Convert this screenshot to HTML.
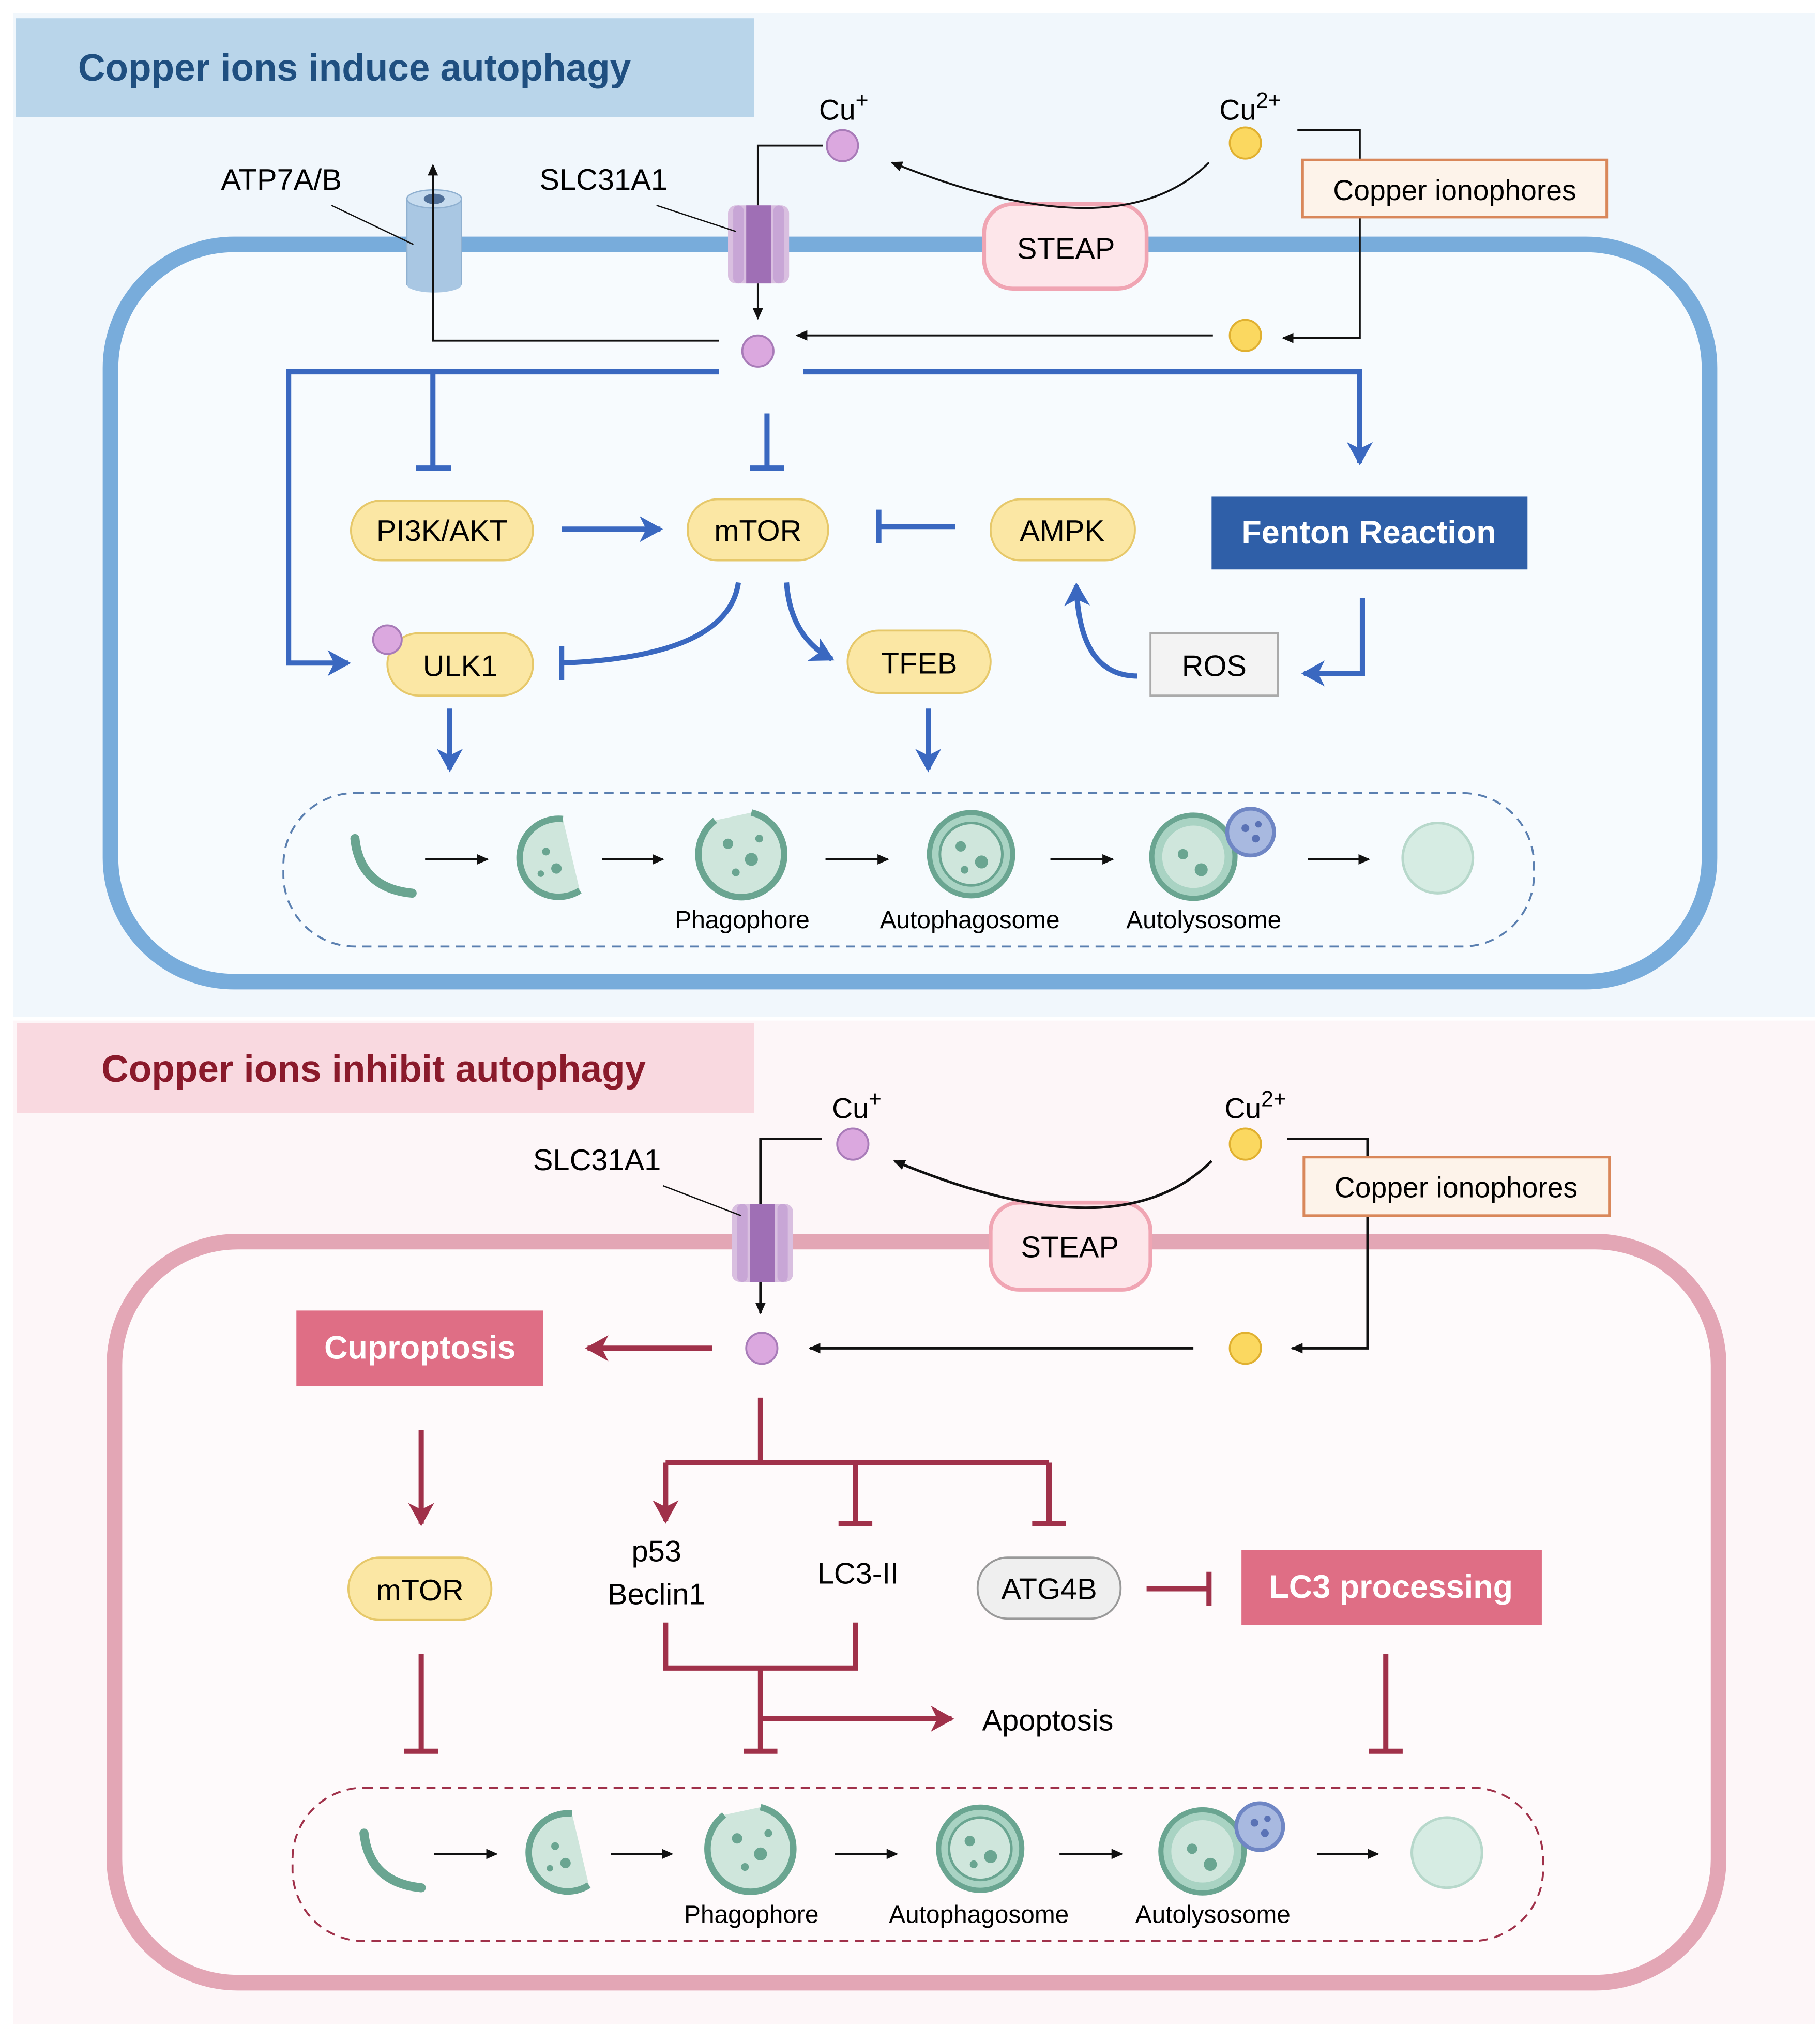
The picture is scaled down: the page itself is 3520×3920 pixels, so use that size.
<!DOCTYPE html>
<html><head><meta charset="utf-8"><style>
html,body{margin:0;padding:0;background:#fff}
svg{display:block}
text{font-family:"Liberation Sans",sans-serif}
</style></head><body>
<svg width="3520" height="3920" viewBox="0 0 1400 1559.1" xmlns="http://www.w3.org/2000/svg">
<defs>
<marker id="ak" markerWidth="10" markerHeight="10" refX="8" refY="5" orient="auto" markerUnits="userSpaceOnUse"><path d="M0,1 L9,5 L0,9 z" fill="#111"/></marker>
<marker id="ab" markerWidth="24" markerHeight="24" refX="18" refY="12" orient="auto" markerUnits="userSpaceOnUse"><path d="M2,2 L20,12 L2,22 L7,12 z" fill="#3a68c0"/></marker>
<marker id="ar" markerWidth="24" markerHeight="24" refX="18" refY="12" orient="auto" markerUnits="userSpaceOnUse"><path d="M2,2 L20,12 L2,22 L7,12 z" fill="#a0314a"/></marker>
<g id="crescent"><path d="M-22,-20 Q-18,18 22,22" fill="none" stroke="#6aa591" stroke-width="7" stroke-linecap="round"/></g>
<g id="half"><path d="M5,-30 A30,30 0 1 0 18,25" fill="#cfe6dc" stroke="#6aa591" stroke-width="5"/><circle cx="-8" cy="-5" r="3" fill="#6aa591"/><circle cx="0" cy="8" r="4" fill="#6aa591"/><circle cx="-12" cy="12" r="2.5" fill="#6aa591"/></g>
<g id="phago"><path d="M-20,-26 A33,33 0 1 0 8,-32" fill="#cfe6dc" stroke="#6aa591" stroke-width="5"/><circle cx="-10" cy="-8" r="4" fill="#6aa591"/><circle cx="8" cy="4" r="5" fill="#6aa591"/><circle cx="-4" cy="14" r="3" fill="#6aa591"/><circle cx="14" cy="-12" r="3" fill="#6aa591"/></g>
<g id="auto"><circle r="32" fill="#a9d3c3" stroke="#6aa591" stroke-width="4"/><circle r="24" fill="#cfe6dc" stroke="#6aa591" stroke-width="2"/><circle cx="-8" cy="-6" r="4" fill="#6aa591"/><circle cx="8" cy="6" r="5" fill="#6aa591"/><circle cx="-5" cy="12" r="3" fill="#6aa591"/></g>
<g id="lyso"><circle r="32" fill="#a9d3c3" stroke="#6aa591" stroke-width="4"/><circle r="24" fill="#cfe6dc"/><circle cx="-8" cy="-2" r="4" fill="#6aa591"/><circle cx="6" cy="10" r="5" fill="#6aa591"/><circle cx="44" cy="-19" r="18" fill="#a8b9e0" stroke="#6f86c4" stroke-width="3"/><circle cx="40" cy="-22" r="3" fill="#5a72b5"/><circle cx="48" cy="-14" r="3" fill="#5a72b5"/><circle cx="50" cy="-25" r="2.5" fill="#5a72b5"/></g>
<g id="final"><circle r="27" fill="#d6ece3" stroke="#b7d8cb" stroke-width="2"/></g>
<g id="chan"><rect x="0" y="0" width="47" height="60" rx="6" fill="#d9bfe0"/><rect x="14" y="0" width="19" height="60" fill="#9f6fb5"/><rect x="4" y="0" width="8" height="60" rx="4" fill="#c8a6d6"/><rect x="35" y="0" width="8" height="60" rx="4" fill="#c8a6d6"/></g>
</defs>

<!-- TOP PANEL -->
<rect x="10" y="10" width="1386" height="772" fill="#f1f7fc"/>
<rect x="12" y="14" width="568" height="76" fill="#b9d5ea"/>
<text x="60" y="62" font-size="29" font-weight="bold" fill="#1f4f80">Copper ions induce autophagy</text>
<rect x="85" y="188" width="1230" height="567" rx="95" fill="#f7fbfe" stroke="#78acdb" stroke-width="12"/>

<text x="630" y="92" font-size="22">Cu<tspan dy="-9" font-size="17">+</tspan></text>
<circle cx="648" cy="112" r="12" fill="#dba8df" stroke="#a87bb8" stroke-width="1.5"/>
<text x="938" y="92" font-size="22">Cu<tspan dy="-9" font-size="17">2+</tspan></text>
<circle cx="958" cy="110" r="12" fill="#fbd860" stroke="#e0b030" stroke-width="1.5"/>
<path d="M998,100 H1046 V260 H987" fill="none" stroke="#111" stroke-width="1.5" marker-end="url(#ak)"/>
<rect x="1002" y="123" width="234" height="44" fill="#fdf3ea" stroke="#d9875a" stroke-width="2"/>
<text x="1119" y="154" font-size="22" text-anchor="middle">Copper ionophores</text>
<circle cx="958" cy="258" r="12" fill="#fbd860" stroke="#e0b030" stroke-width="1.5"/>
<line x1="933" y1="258" x2="613" y2="258" stroke="#111" stroke-width="1.5" marker-end="url(#ak)"/>
<circle cx="583" cy="270" r="12" fill="#dba8df" stroke="#a87bb8" stroke-width="1.5"/>
<path d="M633,112 H583 V245" fill="none" stroke="#111" stroke-width="1.5" marker-end="url(#ak)"/>
<rect x="757" y="157" width="125" height="65" rx="22" fill="#fde6ea" stroke="#f0a5b3" stroke-width="3"/>
<text x="820" y="199" font-size="23" text-anchor="middle">STEAP</text>
<path d="M930,125 Q860,195 686,125" fill="none" stroke="#111" stroke-width="1.5" marker-end="url(#ak)"/>
<use href="#chan" x="560" y="158"/>
<text x="415" y="146" font-size="23">SLC31A1</text>
<line x1="505" y1="158" x2="566" y2="178" stroke="#111" stroke-width="1"/>
<rect x="313" y="153" width="42" height="66" fill="#a9c7e3" stroke="#8fb0d0"/>
<ellipse cx="334" cy="219" rx="21" ry="6" fill="#a9c7e3"/>
<ellipse cx="334" cy="153" rx="21" ry="7" fill="#c7dcef" stroke="#8fb0d0"/>
<ellipse cx="334" cy="153" rx="8" ry="4" fill="#4f6f98"/>
<text x="170" y="146" font-size="23">ATP7A/B</text>
<line x1="255" y1="158" x2="318" y2="188" stroke="#111" stroke-width="1"/>
<path d="M553,262 H333 V127" fill="none" stroke="#111" stroke-width="1.5" marker-end="url(#ak)"/>

<g stroke="#3a68c0" stroke-width="4" fill="none">
<path d="M553,286 H222 V510 H268" marker-end="url(#ab)"/>
<path d="M333,286 V360 M320,360 H347"/>
<path d="M590,318 V360 M577,360 H603"/>
<path d="M618,286 H1046 V356" marker-end="url(#ab)"/>
<path d="M432,407 H508" marker-end="url(#ab)"/>
<path d="M735,405 H676 M676,392 V418"/>
<path d="M568,448 Q560,505 432,510 M432,497 V523"/>
<path d="M605,448 Q608,490 640,507" marker-end="url(#ab)"/>
<path d="M1048,460 V518 H1003" marker-end="url(#ab)"/>
<path d="M875,520 Q830,520 828,450" marker-end="url(#ab)"/>
<path d="M346,545 V592" marker-end="url(#ab)"/>
<path d="M714,545 V592" marker-end="url(#ab)"/>
</g>
<g font-size="23" text-anchor="middle">
<rect x="270" y="385" width="140" height="46" rx="23" fill="#fbe7a4" stroke="#e6c86a" stroke-width="1.5"/><text x="340" y="416">PI3K/AKT</text>
<rect x="529" y="384" width="108" height="47" rx="23" fill="#fbe7a4" stroke="#e6c86a" stroke-width="1.5"/><text x="583" y="416">mTOR</text>
<rect x="762" y="384" width="111" height="47" rx="23" fill="#fbe7a4" stroke="#e6c86a" stroke-width="1.5"/><text x="817" y="416">AMPK</text>
<rect x="652" y="485" width="110" height="48" rx="24" fill="#fbe7a4" stroke="#e6c86a" stroke-width="1.5"/><text x="707" y="518">TFEB</text>
<rect x="298" y="487" width="112" height="48" rx="24" fill="#fbe7a4" stroke="#e6c86a" stroke-width="1.5"/><text x="354" y="520">ULK1</text>
<rect x="932" y="382" width="243" height="56" fill="#2f5fa8"/><text x="1053" y="418" fill="#fff" font-weight="bold" font-size="25">Fenton Reaction</text>
<rect x="885" y="487" width="98" height="48" fill="#f3f3f3" stroke="#aaa" stroke-width="1.5"/><text x="934" y="520">ROS</text>
</g>
<circle cx="298" cy="492" r="11" fill="#dba8df" stroke="#a87bb8" stroke-width="1.5"/>
<rect x="218" y="610" width="962" height="118" rx="55" fill="none" stroke="#5a7fb0" stroke-width="1.5" stroke-dasharray="7,5"/>
<use href="#crescent" x="295" y="665"/><use href="#half" x="428" y="660"/><use href="#phago" x="570" y="657"/><use href="#auto" x="747" y="657"/><use href="#lyso" x="918" y="659"/><use href="#final" x="1106" y="660"/>
<g stroke="#111" stroke-width="1.5" marker-end="url(#ak)"><line x1="327" y1="661" x2="375" y2="661"/><line x1="463" y1="661" x2="510" y2="661"/><line x1="635" y1="661" x2="683" y2="661"/><line x1="808" y1="661" x2="856" y2="661"/><line x1="1006" y1="661" x2="1053" y2="661"/></g>
<g font-size="19" text-anchor="middle"><text x="571" y="714">Phagophore</text><text x="746" y="714">Autophagosome</text><text x="926" y="714">Autolysosome</text></g>

<!-- BOTTOM PANEL -->
<rect x="10" y="785" width="1386" height="772" fill="#fdf6f8"/>
<rect x="13" y="787" width="567" height="69" fill="#f9d9e0"/>
<text x="78" y="832" font-size="29" font-weight="bold" fill="#8a1a2b">Copper ions inhibit autophagy</text>
<rect x="88" y="955" width="1234" height="570" rx="95" fill="#fefafb" stroke="#e3a6b5" stroke-width="12"/>

<text x="640" y="860" font-size="22">Cu<tspan dy="-9" font-size="17">+</tspan></text>
<circle cx="656" cy="880" r="12" fill="#dba8df" stroke="#a87bb8" stroke-width="1.5"/>
<text x="942" y="860" font-size="22">Cu<tspan dy="-9" font-size="17">2+</tspan></text>
<circle cx="958" cy="880" r="12" fill="#fbd860" stroke="#e0b030" stroke-width="1.5"/>
<path d="M990,876 H1052 V1037 H994" fill="none" stroke="#111" stroke-width="2" marker-end="url(#ak)"/>
<rect x="1003" y="890" width="235" height="45" fill="#fdf3ea" stroke="#d9875a" stroke-width="2"/>
<text x="1120" y="921" font-size="22" text-anchor="middle">Copper ionophores</text>
<circle cx="958" cy="1037" r="12" fill="#fbd860" stroke="#e0b030" stroke-width="1.5"/>
<line x1="918" y1="1037" x2="623" y2="1037" stroke="#111" stroke-width="2" marker-end="url(#ak)"/>
<circle cx="586" cy="1037" r="12" fill="#dba8df" stroke="#a87bb8" stroke-width="1.5"/>
<path d="M632,876 H585 V1010" fill="none" stroke="#111" stroke-width="2" marker-end="url(#ak)"/>
<rect x="762" y="925" width="123" height="67" rx="22" fill="#fde6ea" stroke="#f0a5b3" stroke-width="3"/>
<text x="823" y="967" font-size="23" text-anchor="middle">STEAP</text>
<path d="M932,893 Q860,965 688,893" fill="none" stroke="#111" stroke-width="2" marker-end="url(#ak)"/>
<use href="#chan" x="563" y="926"/>
<text x="410" y="900" font-size="23">SLC31A1</text>
<line x1="510" y1="912" x2="570" y2="935" stroke="#111" stroke-width="1"/>

<g stroke="#a0314a" stroke-width="4" fill="none">
<path d="M548,1037 H452" marker-end="url(#ar)"/>
<path d="M324,1100 V1172" marker-end="url(#ar)"/>
<path d="M324,1272 V1347 M311,1347 H337"/>
<path d="M585,1075 V1125 M512,1125 H807"/>
<path d="M512,1125 V1170" marker-end="url(#ar)"/>
<path d="M658,1125 V1172 M645,1172 H671"/>
<path d="M807,1125 V1172 M794,1172 H820"/>
<path d="M882,1222 H930 M930,1209 V1235"/>
<path d="M512,1248 V1283 H658 V1248 M585,1283 V1347 M572,1347 H598"/>
<path d="M585,1322 H732" marker-end="url(#ar)"/>
<path d="M1066,1272 V1347 M1053,1347 H1079"/>
</g>
<g font-size="23" text-anchor="middle">
<rect x="228" y="1008" width="190" height="58" fill="#df6e85"/><text x="323" y="1045" fill="#fff" font-weight="bold" font-size="25">Cuproptosis</text>
<rect x="268" y="1198" width="110" height="48" rx="24" fill="#fbe7a4" stroke="#e6c86a" stroke-width="1.5"/><text x="323" y="1231">mTOR</text>
<text x="505" y="1201">p53</text><text x="505" y="1234">Beclin1</text>
<text x="660" y="1218">LC3-II</text>
<rect x="752" y="1198" width="110" height="47" rx="23" fill="#efefef" stroke="#999" stroke-width="1.5"/><text x="807" y="1230">ATG4B</text>
<rect x="955" y="1192" width="231" height="58" fill="#df6e85"/><text x="1070" y="1229" fill="#fff" font-weight="bold" font-size="25">LC3 processing</text>
<text x="806" y="1331">Apoptosis</text>
</g>
<rect x="225" y="1375" width="962" height="118" rx="55" fill="none" stroke="#a0314a" stroke-width="1.5" stroke-dasharray="7,5"/>
<use href="#crescent" x="302" y="1430"/><use href="#half" x="435" y="1425"/><use href="#phago" x="577" y="1422"/><use href="#auto" x="754" y="1422"/><use href="#lyso" x="925" y="1424"/><use href="#final" x="1113" y="1425"/>
<g stroke="#111" stroke-width="1.5" marker-end="url(#ak)"><line x1="334" y1="1426" x2="382" y2="1426"/><line x1="470" y1="1426" x2="517" y2="1426"/><line x1="642" y1="1426" x2="690" y2="1426"/><line x1="815" y1="1426" x2="863" y2="1426"/><line x1="1013" y1="1426" x2="1060" y2="1426"/></g>
<g font-size="19" text-anchor="middle"><text x="578" y="1479">Phagophore</text><text x="753" y="1479">Autophagosome</text><text x="933" y="1479">Autolysosome</text></g>
</svg>
</body></html>
